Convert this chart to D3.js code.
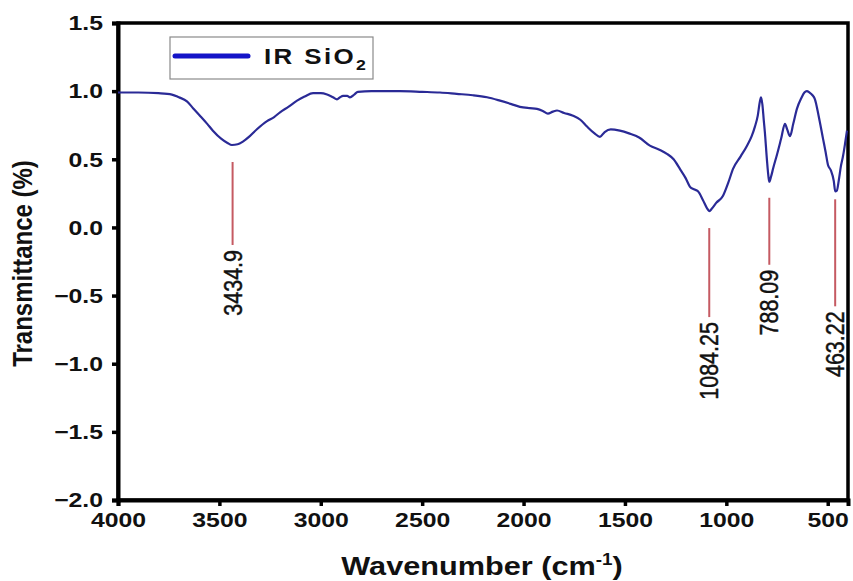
<!DOCTYPE html>
<html>
<head>
<meta charset="utf-8">
<script src="https://cdn.jsdelivr.net/npm/d3@7"></script>
<style>
  html, body { margin: 0; padding: 0; background: #fff; }
  #graphic { width: 853px; height: 581px; }
  text { font-family: "Liberation Sans", Arial, sans-serif; fill: #111; }
</style>
</head>
<body>
<div id="graphic"></div>
<script>
// spectrum (wavenumber in cm-1, transmittance)
const wavenumber = [4000, 3900, 3800, 3734, 3700, 3660, 3630, 3596, 3560, 3532, 3490, 3460, 3438, 3410,
  3384, 3350, 3315, 3265, 3230, 3201, 3160, 3117, 3080, 3038, 3000, 2969, 2940, 2920, 2905, 2890, 2870,
  2856, 2835, 2817, 2750, 2610, 2500, 2412, 2330, 2250, 2180, 2116, 2060, 2018, 1970, 1934, 1905, 1880,
  1855, 1835, 1800, 1756, 1720, 1687, 1650, 1623, 1600, 1570, 1525, 1480, 1430, 1377, 1330, 1293, 1260,
  1229, 1200, 1180, 1160, 1140, 1115, 1095, 1084, 1070, 1050, 1017, 990, 967, 930, 898, 875, 859, 845,
  835, 829, 822, 815, 810, 800, 792, 788, 780, 768, 751, 730, 711, 700, 686, 670, 652, 630, 615, 603,
  590, 575, 563, 545, 523, 510, 499, 485, 470, 463, 455, 445, 435, 425, 415, 405];
const transmittance = [0.99, 0.99, 0.985, 0.975, 0.955, 0.925, 0.875, 0.82, 0.76, 0.71, 0.65, 0.62, 0.605, 0.61,
  0.63, 0.67, 0.72, 0.78, 0.81, 0.845, 0.885, 0.93, 0.96, 0.985, 0.985, 0.975, 0.955, 0.94, 0.955, 0.965, 0.965,
  0.955, 0.975, 0.995, 1.0, 1.0, 0.995, 0.99, 0.98, 0.97, 0.955, 0.93, 0.905, 0.885, 0.875, 0.87, 0.855, 0.835,
  0.85, 0.858, 0.84, 0.82, 0.79, 0.74, 0.69, 0.665, 0.70, 0.72, 0.71, 0.69, 0.66, 0.60, 0.57, 0.54, 0.50,
  0.43, 0.36, 0.30, 0.28, 0.265, 0.20, 0.14, 0.12, 0.14, 0.18, 0.23, 0.33, 0.43, 0.52, 0.60, 0.67, 0.74, 0.82,
  0.92, 0.955, 0.90, 0.78, 0.70, 0.50, 0.37, 0.335, 0.37, 0.44, 0.53, 0.65, 0.76, 0.72, 0.67, 0.76, 0.87, 0.95,
  0.99, 1.0, 0.99, 0.97, 0.94, 0.82, 0.65, 0.55, 0.46, 0.42, 0.34, 0.265, 0.27, 0.35, 0.45, 0.52, 0.61, 0.71];

const peakPositions = [3434.9, 1084.25, 788.09, 463.22];
const peakLabels = ["3434.9", "1084.25", "788.09", "463.22"];

const xTicks = [4000, 3500, 3000, 2500, 2000, 1500, 1000, 500];
const yTicks = [-2.0, -1.5, -1.0, -0.5, 0.0, 0.5, 1.0, 1.5];
const xDomain = [4000, 400];
const yDomain = [-2.0, 1.5];

const seriesName = "IR SiO";
const xLabel = "Wavenumber (cm";
const yLabel = "Transmittance (%)";

// the original picture is squeezed a bit, so text is stretched sideways
const stretch = 1.18;

function drawGraphic() {
  const width = 853, height = 581;
  const margin = { top: 23, right: 5, bottom: 81, left: 118 };
  const chartWidth = width - margin.left - margin.right;
  const chartHeight = height - margin.top - margin.bottom;

  const svg = d3.select('#graphic').append('svg')
    .attr('width', width)
    .attr('height', height)
    .append('g')
    .attr('transform', `translate(${margin.left},${margin.top})`);

  const x = d3.scaleLinear().domain(xDomain).range([0, chartWidth]);
  const y = d3.scaleLinear().domain(yDomain).range([chartHeight, 0]);

  const data = wavenumber.map((w, i) => ({ w: w, t: transmittance[i] }));

  //frame
  svg.append('rect')
    .attr('x', 0).attr('y', 0)
    .attr('width', chartWidth).attr('height', chartHeight)
    .attr('fill', 'none')
    .attr('stroke', '#000')
    .attr('stroke-width', 3.5);

  //axes
  const xAxis = d3.axisBottom(x)
    .tickValues(xTicks)
    .tickSize(6)
    .tickPadding(6)
    .tickFormat(d3.format('d'));

  const yAxis = d3.axisLeft(y)
    .tickValues(yTicks)
    .tickSize(6)
    .tickPadding(8)
    .tickFormat(d3.format('.1f'));

  const gx = svg.append('g')
    .attr('transform', `translate(0,${chartHeight})`)
    .call(xAxis);
  const gy = svg.append('g').call(yAxis);

  [gx, gy].forEach(g => {
    g.select('.domain').attr('stroke', '#000').attr('stroke-width', 4);
    g.selectAll('.tick line').attr('stroke', '#000').attr('stroke-width', 3.5);
    g.selectAll('.tick text')
      .attr('fill', '#111')
      .style('font-size', '21px')
      .style('font-weight', 'bold');
  });
  gx.selectAll('.tick text').attr('transform', `scale(${stretch},1)`);
  gy.selectAll('.tick text')
    .attr('x', -15 / stretch)
    .attr('transform', `scale(${stretch},1)`);

  //spectrum
  const line = d3.line()
    .x(d => x(d.w))
    .y(d => y(d.t))
    .curve(d3.curveMonotoneX);

  svg.append('path')
    .datum(data)
    .attr('fill', 'none')
    .attr('stroke', '#2a2a96')
    .attr('stroke-width', 2.2)
    .attr('d', line);

  //peak markers: gap below the curve and line length in px
  const markerGeom = [[17, 83], [17, 89], [16, 67], [8, 107]];
  const nearest = d3.bisector(d => -d.w).center;

  peakPositions.forEach((p, i) => {
    const d = data[nearest(data, -p)];
    const px = x(p);
    const y0 = y(d.t) + markerGeom[i][0];
    const y1 = y0 + markerGeom[i][1];
    svg.append('line')
      .attr('x1', px).attr('x2', px)
      .attr('y1', y0).attr('y2', y1)
      .attr('stroke', '#c55a62')
      .attr('stroke-width', 2);
    svg.append('text')
      .attr('transform', `translate(${px},${y1 + 5}) scale(${stretch},1) rotate(-90)`)
      .attr('text-anchor', 'end')
      .attr('dy', '0.36em')
      .style('font-size', '21.5px')
      .style('stroke', '#111')
      .style('stroke-width', 0.4)
      .text(peakLabels[i]);
  });

  //legend
  const legend = svg.append('g').attr('transform', 'translate(52,14)');
  legend.append('rect')
    .attr('width', 203).attr('height', 42)
    .attr('fill', '#fff')
    .attr('stroke', '#8a8a8a')
    .attr('stroke-width', 1.2);
  legend.append('line')
    .attr('x1', 5).attr('x2', 78)
    .attr('y1', 19).attr('y2', 19)
    .attr('stroke', '#1414c8')
    .attr('stroke-width', 5)
    .attr('stroke-linecap', 'round');
  const lt = legend.append('text')
    .attr('transform', `translate(94,27) scale(${stretch},1)`)
    .style('font-size', '22px')
    .style('font-weight', 'bold')
    .style('letter-spacing', '2px');
  lt.append('tspan').text(seriesName);
  lt.append('tspan')
    .attr('dy', 6)
    .style('font-size', '15px')
    .text('2');

  //axis labels
  const xl = svg.append('text')
    .attr('transform', `translate(${chartWidth / 2 - 1},${chartHeight + 75}) scale(${stretch},1)`)
    .attr('text-anchor', 'middle')
    .style('font-size', '26px')
    .style('font-weight', 'bold');
  xl.append('tspan').text(xLabel);
  xl.append('tspan').attr('dy', -10).style('font-size', '16px').text('-1');
  xl.append('tspan').attr('dy', 10).text(')');

  svg.append('text')
    .attr('transform', `translate(${-86},${chartHeight / 2 + 2}) scale(${stretch},1) rotate(-90)`)
    .attr('text-anchor', 'middle')
    .style('font-size', '24px')
    .style('font-weight', 'bold')
    .text(yLabel);
}

drawGraphic();
</script>
</body>
</html>
